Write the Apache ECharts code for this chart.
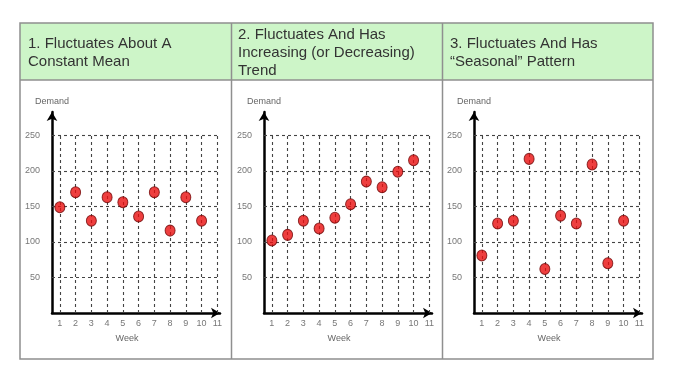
<!DOCTYPE html>
<html>
<head>
<meta charset="utf-8">
<script src="https://cdn.jsdelivr.net/npm/echarts@6/dist/echarts.min.js"></script>
<style>
  html, body { margin: 0; padding: 0; background: #fff; }
  #chart { width: 676px; height: 377px; }
</style>
</head>
<body>
<div id="chart"></div>
<script>
// data
const weeks = [1, 2, 3, 4, 5, 6, 7, 8, 9, 10];
const constantMean = [149, 170, 130, 163, 156, 136, 170, 116, 163, 130];
const trendDemand = [102, 110, 130, 119, 134, 153, 185, 177, 199, 215];
const seasonalDemand = [81, 126, 130, 217, 62, 137, 126, 209, 70, 130];
const xTicks = [1, 2, 3, 4, 5, 6, 7, 8, 9, 10, 11];
const yTicks = [50, 100, 150, 200, 250];
const titles = [
  '1. Fluctuates About A\nConstant Mean',
  '2. Fluctuates And Has\nIncreasing (or Decreasing)\nTrend',
  '3. Fluctuates And Has\n\u201cSeasonal\u201d Pattern'
];
const panels = [constantMean, trendDemand, seasonalDemand];

const X_MIN = 0.5, X_MAX = 11.17, Y_MAX = 283;
const gridLefts = [52, 264, 474];
const titleLefts = [28, 238, 450];
const font = 'Arial, "Liberation Sans", sans-serif';

let myChart = echarts.init(document.getElementById('chart'));

let grids = [], xAxes = [], yAxes = [], series = [];
panels.forEach(function (vals, i) {
  grids.push({ left: gridLefts[i], top: 112, width: 168, height: 201 });
  xAxes.push({
    gridIndex: i,
    type: 'value',
    min: X_MIN,
    max: X_MAX,
    name: 'Week',
    nameLocation: 'middle',
    nameGap: 21,
    nameTextStyle: { fontSize: 9, color: '#666', fontFamily: font, padding: [0, 18, 0, 0] },
    axisLine: { lineStyle: { color: '#000', width: 2.5 }, symbol: ['none', 'arrow'], symbolSize: [8, 9] },
    axisTick: { show: false },
    splitLine: { show: false },
    axisLabel: { customValues: xTicks, fontSize: 9, color: '#777', margin: 6, fontFamily: font }
  });
  yAxes.push({
    gridIndex: i,
    type: 'value',
    min: 0,
    max: Y_MAX,
    name: 'Demand',
    nameLocation: 'end',
    nameGap: 6,
    nameTextStyle: { fontSize: 9, color: '#666', fontFamily: font },
    axisLine: { lineStyle: { color: '#000', width: 2.5 }, symbol: ['none', 'arrow'], symbolSize: [8, 9] },
    axisTick: { show: false },
    splitLine: { show: false },
    axisLabel: { customValues: yTicks, fontSize: 9, color: '#777', margin: 12, fontFamily: font }
  });

  // dashed grid lines in data space
  let lines = [];
  yTicks.forEach(function (v) {
    lines.push([{ coord: [X_MIN, v] }, { coord: [X_MAX, v] }]);
  });
  xTicks.forEach(function (w) {
    lines.push([{ coord: [w, 0] }, { coord: [w, 250] }]);
  });

  series.push({
    type: 'scatter',
    xAxisIndex: i,
    yAxisIndex: i,
    symbolSize: [10, 11],
    itemStyle: { color: '#ea0f0f', borderColor: '#700606', borderWidth: 1 },
    data: weeks.map(function (w, k) { return [w, vals[k]]; }),
    z: 5,
    markLine: {
      silent: true,
      symbol: ['none', 'none'],
      label: { show: false },
      lineStyle: { color: '#444', width: 1.1, type: [3, 3] },
      data: lines,
      z: 1
    }
  });
});

// table frame, header and titles
let graphic = [
  { type: 'rect', shape: { x: 20, y: 23, width: 633, height: 57 }, style: { fill: '#cdf5c8' }, z: 0 },
  { type: 'rect', shape: { x: 20, y: 23, width: 633, height: 336 }, style: { fill: 'none', stroke: '#8f8f8f', lineWidth: 1.5 }, z: 1 },
  { type: 'line', shape: { x1: 20, y1: 80, x2: 653, y2: 80 }, style: { stroke: '#8f8f8f', lineWidth: 1.5 }, z: 1 },
  { type: 'line', shape: { x1: 231.5, y1: 23, x2: 231.5, y2: 359 }, style: { stroke: '#8f8f8f', lineWidth: 1.5 }, z: 1 },
  { type: 'line', shape: { x1: 442.5, y1: 23, x2: 442.5, y2: 359 }, style: { stroke: '#8f8f8f', lineWidth: 1.5 }, z: 1 }
];
titles.forEach(function (t, i) {
  graphic.push({
    type: 'text',
    x: titleLefts[i],
    y: 53,
    z: 2,
    style: {
      text: t,
      fontSize: 15,
      fontFamily: font,
      fill: '#333',
      lineHeight: 18,
      verticalAlign: 'middle',
      align: 'left'
    }
  });
});

myChart.setOption({
  animation: false,
  backgroundColor: '#fff',
  graphic: graphic,
  grid: grids,
  xAxis: xAxes,
  yAxis: yAxes,
  series: series
});
</script>
</body>
</html>
